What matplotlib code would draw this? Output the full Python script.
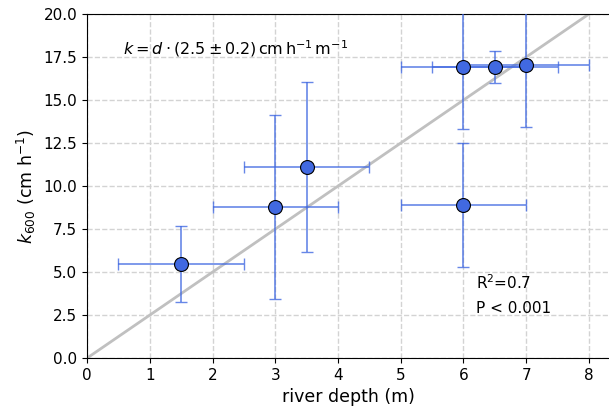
import matplotlib.pyplot as plt
import numpy as np

depth = [1.5, 3.0, 3.5, 6.0, 6.0, 6.5, 7.0]
k600 = [5.45, 8.78, 11.1, 8.9, 16.94, 16.94, 17.03]
depth_err = [1.0, 1.0, 1.0, 1.0, 1.0, 1.0, 1.0]
k600_err = [2.2, 5.35, 4.94, 3.6, 3.63, 0.93, 3.62]
slope = 2.5

fig, ax = plt.subplots(figsize=(6.09, 4.13), dpi=100)
fig.subplots_adjust(left=0.143, right=1.0, top=0.966, bottom=0.133)

ax.grid(True, linestyle='--', color='lightgray', linewidth=1, zorder=0)
ax.set_axisbelow(True)
ax.spines['right'].set_visible(False)

xs = np.array([0, 8])
ax.plot(xs, slope * xs, color='silver', linewidth=2, zorder=2)

ax.errorbar(depth, k600, xerr=depth_err, yerr=k600_err, fmt='none',
            ecolor='royalblue', alpha=0.8, elinewidth=1.2, capsize=4, zorder=3)
ax.scatter(depth, k600, s=100, color='royalblue', edgecolor='black',
           linewidth=0.8, zorder=4)

ax.text(0.57, 18.0, r'$k = d\cdot(2.5\pm0.2)\,\mathrm{cm\,h^{-1}\,m^{-1}}$',
        fontsize=11.5, va='center')
ax.text(6.2, 4.4, r'R$^2$=0.7', fontsize=11, va='center')
ax.text(6.2, 2.9, 'P < 0.001', fontsize=11, va='center')

ax.set_xlim(0, 8.32)
ax.set_ylim(0, 20)
ax.set_yticks(np.arange(0, 20.1, 2.5))
ax.tick_params(labelsize=11)
ax.set_xlabel('river depth (m)', fontsize=12.5)
ax.set_ylabel(r'$k_{600}$ (cm h$^{-1}$)', fontsize=12.5)

plt.savefig('out.png', dpi=100)
